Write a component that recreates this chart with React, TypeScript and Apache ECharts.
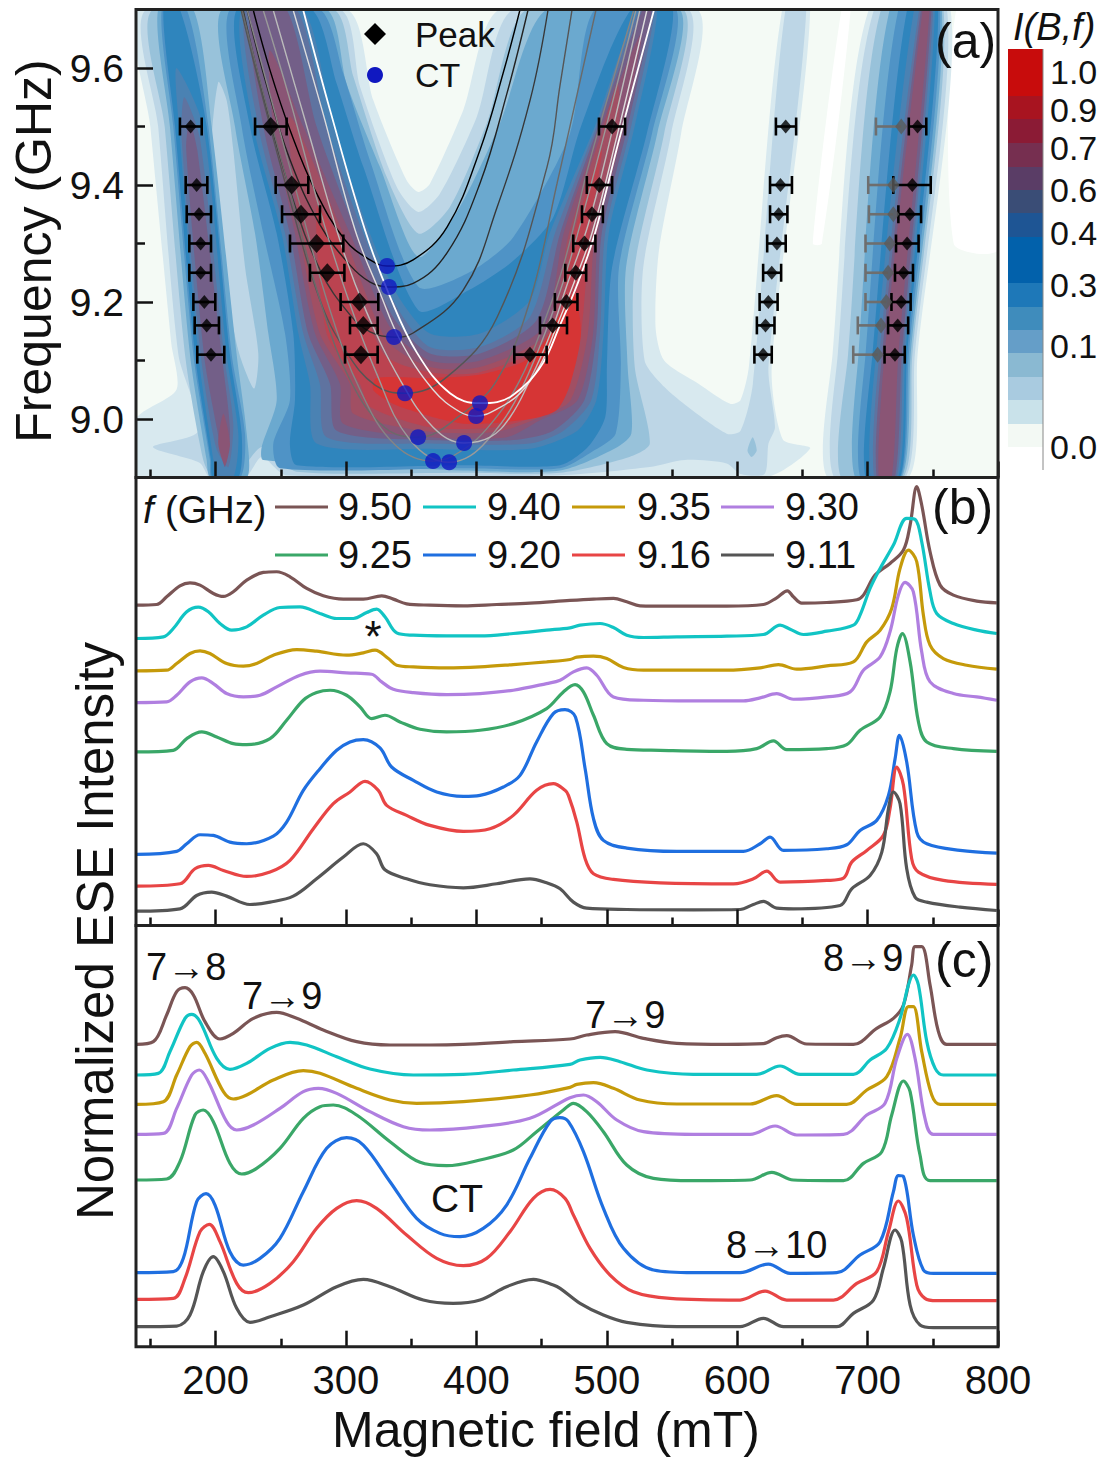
import React, { useEffect, useRef } from "react";
import * as echarts from "echarts";

const FONT = '"Liberation Sans", Arial, sans-serif';

// ---- colour scale of I(B,f): contour fill for each level, and colour bar swatches
const levelColors = ["#f4faf5", "#d8e9ef", "#bdd6e6", "#98c2da", "#6ba9cf", "#4f93c6", "#2f85bd", "#4a82b3", "#5f73a0", "#735f88", "#8a5575", "#a14f63", "#bb4350", "#d63535"];
const barColors = ["#c80c0c", "#a81420", "#8b1b35", "#762f50", "#5a3d66", "#3a4d76", "#1e5594", "#0261ab", "#1e78b8", "#3f8cbc", "#659ec8", "#8ab9d2", "#a9cbe0", "#c9e2ea", "#f3f9f4"];
const barEdges = [49, 96, 119, 143, 167, 190, 213, 237, 283, 307, 330, 353, 377, 400, 424, 447];
const barLabels: [string, number][] = [["1.0", 72], ["0.9", 110], ["0.7", 148], ["0.6", 190], ["0.4", 233], ["0.3", 285], ["0.1", 346], ["0.0", 447]];

// ---- contour outlines [field mT, frequency GHz], painted in order of intensity
const whiteA = [[680, 9.7], [687, 9.7], [665, 9.3], [658, 9.3]];
const whiteB = [[768, 9.7], [800, 9.7], [800, 9.29], [766, 9.3]];
const c1 = [[142, 9.7], [300.5, 9.7], [321, 9.545], [346.5, 9.408], [355.5, 9.388], [364.4, 9.402], [390, 9.528], [418, 9.7], [569.3, 9.7], [557, 9.488], [540, 9.288], [537.4, 9.157], [544, 9.1], [570.6, 9.06], [594.6, 9.026], [602.5, 9.032], [609, 9.09], [634.5, 9.7], [656, 9.7], [626.5, 9.09], [635, 8.965], [656, 8.95], [621, 8.9], [139, 8.9], [139, 9.0], [170, 9.05], [166, 9.13], [150, 9.5]];
const c2 = [[147, 9.7], [295.4, 9.7], [310.8, 9.568], [338.9, 9.397], [355.5, 9.354], [372, 9.385], [400.2, 9.516], [428.3, 9.7], [562.6, 9.7], [549.4, 9.488], [528, 9.26], [529, 9.1], [544, 9.055], [562.6, 9.02], [592, 8.975], [602.6, 8.98], [612, 9.06], [637, 9.7], [653, 9.7], [624, 9.09], [629, 8.986], [624, 8.958], [621, 8.906], [602.6, 8.906], [592, 8.924], [560, 8.93], [533, 8.918], [464, 8.904], [254, 8.904], [235.4, 8.935], [222.6, 8.9], [195.7, 8.9], [188, 8.925], [152, 8.952], [187, 8.98], [171.5, 9.11], [156, 9.5]];
const c3 = [[152, 9.7], [290.3, 9.7], [305.7, 9.585], [331.2, 9.414], [355.5, 9.317], [379.8, 9.363], [407.9, 9.505], [438.6, 9.7], [558.7, 9.7], [544, 9.488], [521.4, 9.26], [521.4, 9.09], [533, 8.958], [517.4, 8.935], [464, 8.908], [390, 8.908], [262, 8.91], [244, 8.941], [235, 8.952], [224, 8.924], [221, 8.9], [198.3, 8.9], [190.6, 8.93], [176.6, 9.11], [161, 9.5]];
const pocket = [[202.1, 9.576], [197, 9.46], [206, 9.26], [217.5, 9.117], [229.5, 9.052], [232.8, 9.112], [222.6, 9.26], [213.6, 9.46], [208.5, 9.545]];
const smallStripPocket = [[611.9, 8.969], [607.9, 8.946], [611, 8.935], [615, 8.946]];
const a4 = [[156, 9.7], [165, 9.5], [180.4, 9.11], [193.2, 8.93], [196, 8.9], [224, 8.9], [223.9, 8.975], [216.2, 9.11], [197, 9.5], [183, 9.7]];
const a5 = [[158.7, 9.7], [167.6, 9.5], [183, 9.11], [195.7, 8.93], [197, 8.9], [219, 8.9], [222.6, 8.975], [212.4, 9.11], [194.5, 9.5], [177.9, 9.7]];
const a6 = [[160, 9.7], [168.9, 9.5], [184.2, 9.11], [196.5, 8.93], [198, 8.9], [217.5, 8.9], [220, 8.975], [211, 9.11], [193.2, 9.5], [172.7, 9.7]];
const a7 = [[170, 9.6], [172, 9.5], [186.8, 9.11], [198.3, 8.93], [200, 8.9], [213.6, 8.9], [217.5, 8.975], [208.5, 9.11], [190.6, 9.5]];
const a8 = [[176, 9.55], [174, 9.48], [188.6, 9.11], [200.3, 8.952], [209.8, 8.918], [213.6, 8.992], [206.5, 9.11], [188, 9.48]];
const a9 = [[180, 9.51], [177.5, 9.46], [191.1, 9.11], [201.4, 8.98], [207.2, 8.918], [211.1, 8.98], [204.7, 9.11], [186, 9.46]];
const a10 = [[206, 9.009], [202.1, 8.958], [207.2, 8.921], [211.1, 8.958]];
const v4 = [[204.7, 9.7], [214.9, 9.5], [230.3, 9.317], [240.5, 9.146], [246.9, 9.032], [235.4, 8.952], [236.6, 8.93], [390, 8.912], [464.2, 8.912], [504, 8.947], [518.8, 8.975], [516, 9.09], [514.8, 9.26], [538.7, 9.488], [556, 9.7], [453.9, 9.7], [418, 9.505], [387.4, 9.363], [355.5, 9.277], [326, 9.431], [300.5, 9.573], [285.2, 9.7]];
const v5 = [[211, 9.7], [220, 9.5], [236.6, 9.317], [253.3, 9.146], [257, 9.032], [244.3, 8.958], [249.4, 8.916], [390, 8.916], [464.2, 8.916], [490.8, 8.947], [506.8, 8.975], [510.8, 9.09], [509.4, 9.26], [534.7, 9.488], [553.3, 9.7], [490.8, 9.7], [471.8, 9.488], [428, 9.31], [394, 9.25], [355.5, 9.226], [318.4, 9.442], [298, 9.59], [280, 9.7]];
const v6 = [[216.2, 9.7], [226.4, 9.5], [246.9, 9.317], [259.6, 9.146], [260.9, 9.032], [257, 8.958], [262.2, 8.921], [390, 8.921], [464.2, 8.921], [485.5, 8.952], [498.8, 9.003], [500.1, 9.09], [504.1, 9.26], [530.7, 9.488], [550.7, 9.7], [518.8, 9.7], [480.2, 9.5], [459, 9.345], [428, 9.27], [394, 9.22], [355.5, 9.186], [313.3, 9.431], [292.9, 9.573], [273.7, 9.7]];
const v7 = [[220, 9.7], [229, 9.5], [250.7, 9.317], [263.5, 9.146], [272.4, 9.06], [277.5, 8.958], [364.4, 8.949], [441, 8.949], [477.5, 8.98], [492, 9.032], [497.5, 9.146], [501.5, 9.317], [521.4, 9.5], [538.7, 9.7], [523.3, 9.7], [490.8, 9.5], [456.2, 9.317], [441, 9.203], [402.8, 9.146], [364.4, 9.146], [338.9, 9.214], [318.4, 9.317], [290.3, 9.5], [267.3, 9.7]];
const v8 = [[222.6, 9.7], [232.8, 9.5], [253.3, 9.317], [267.3, 9.146], [280, 9.06], [285.2, 8.969], [364.4, 8.958], [441, 8.958], [466.9, 8.98], [488.1, 9.032], [494.8, 9.146], [498.8, 9.317], [518.7, 9.5], [536.6, 9.7], [525.4, 9.7], [492.1, 9.5], [460.2, 9.317], [441, 9.174], [402.8, 9.123], [364.4, 9.123], [338.9, 9.192], [313.3, 9.317], [285.2, 9.5], [262.2, 9.7]];
const v9 = [[226.4, 9.7], [236.6, 9.5], [257, 9.317], [271, 9.146], [287.8, 9.06], [292.9, 8.98], [364.4, 8.964], [428.3, 8.964], [459, 8.98], [482.8, 9.032], [492.1, 9.146], [496.1, 9.317], [516.1, 9.5], [534.7, 9.7], [527.5, 9.7], [493.5, 9.5], [464.2, 9.317], [446.2, 9.169], [402.8, 9.112], [364.4, 9.112], [336.3, 9.174], [308.2, 9.317], [277.5, 9.5], [254.5, 9.7]];
const v10 = [[241.7, 9.63], [244.3, 9.5], [260.9, 9.317], [276.3, 9.146], [295.4, 9.06], [298, 8.992], [364.4, 8.969], [423.2, 8.969], [448.8, 8.998], [477.5, 9.032], [489.5, 9.146], [493.5, 9.317], [513.4, 9.5], [526.7, 9.66], [495.6, 9.5], [466.9, 9.317], [451.3, 9.157], [402.8, 9.1], [364.4, 9.1], [333.8, 9.157], [303.1, 9.317], [267.3, 9.5]];
const v11 = [[257, 9.517], [264.8, 9.317], [280, 9.146], [303, 9.06], [305.7, 9.009], [364.4, 8.978], [415.6, 8.978], [448.8, 9.003], [472.2, 9.032], [485.5, 9.146], [490.8, 9.317], [509.4, 9.5], [508.1, 9.574], [497.5, 9.5], [470.9, 9.317], [453.9, 9.146], [402.8, 9.089], [364.4, 9.089], [331.2, 9.135], [298, 9.317]];
const v12 = [[277.5, 9.363], [285.2, 9.146], [310.8, 9.06], [318.4, 9.021], [364.4, 8.986], [415.6, 8.986], [451.3, 9.009], [466.9, 9.032], [480.2, 9.146], [486.8, 9.317], [496.1, 9.46], [474.8, 9.317], [456.5, 9.135], [402.8, 9.08], [364.4, 9.08], [328.7, 9.112], [292.9, 9.317]];
const v13 = [[323.5, 9.07], [364.4, 9.07], [402.8, 9.076], [436, 9.098], [451.3, 9.13], [466.7, 9.19], [475, 9.215], [480.2, 9.146], [472, 9.06], [461.5, 9.015], [441, 9.0], [390, 8.992], [339, 9.023], [321, 9.049]];
// the 8->9 ridge: [left edge at 9.70, 9.11, 8.90 GHz, right edge at 8.90, 9.11, 9.70 GHz]
const ridgeFreq = [9.7, 9.11, 8.9, 8.9, 9.11, 9.7];
const ridgeEdges = [
  [1, 701, 673.1, 669.1, 731.6, 738.3, 763.6], [2, 705, 677.1, 674.4, 729, 736.2, 760.9], [3, 710.3, 685, 679.7, 727.6, 734.3, 758.2],
  [4, 717, 693, 690.4, 726.3, 733, 756.9], [5, 723.6, 698.4, 694.4, 725.5, 731.6, 755.6], [6, 730.3, 703.7, 698.4, 725, 730.3, 754.2],
  [7, 735.6, 706.4, 702.4, 723.6, 729, 751.6], [8, 739.6, 709, 705, 722.3, 727.6, 750.3], [9, 741, 711.1, 706.9, 721, 726.3, 749], [10, 742.3, 713, 708.5, 718.5, 723.6, 747.6],
];

// ---- panel (a) peak positions [field, frequency, low, high]
const peaks78 = [[180.9, 9.5, 172.7, 189.4], [185.5, 9.4, 177.1, 193.7], [187.3, 9.35, 177.9, 196.5], [188.6, 9.3, 179.9, 196.5], [188.6, 9.25, 179.9, 196.5], [191.4, 9.2, 183, 199.8], [193.2, 9.16, 184, 202.6], [196.5, 9.11, 186, 206.7]];
const peaks79a = [[242.3, 9.5, 230.3, 254.5], [258.4, 9.4, 246.1, 271.1], [265.5, 9.35, 251, 280.1], [277.5, 9.3, 257.1, 298], [285.7, 9.25, 272.4, 298.8], [310.3, 9.2, 295.9, 324.8], [313.3, 9.16, 303.1, 324.3], [311.5, 9.11, 299.3, 324.3]];
const peaks79b = [[504.1, 9.5, 494, 514], [494.3, 9.4, 484.7, 504.1], [488.7, 9.35, 481, 497], [482.8, 9.3, 474.3, 491.3], [476.2, 9.25, 468.2, 484.2], [469, 9.2, 460.2, 477.5], [458.5, 9.16, 448.8, 469.5], [441.1, 9.11, 429.1, 453.9]];
const peaks810 = [[637.2, 9.5, 629.7, 645.2], [633.2, 9.4, 625.2, 642], [631.8, 9.35, 625.2, 638.5], [630.5, 9.3, 623, 637.2], [626.5, 9.25, 619.9, 633.7], [623.9, 9.2, 617.2, 631], [621.7, 9.16, 615.1, 628.6], [619.9, 9.11, 613.2, 626.5]];
const peaks89gray = [[725.8, 9.5, 706.4, 725.8], [719.7, 9.4, 700.5, 719.7], [719.7, 9.35, 701, 719.7], [717, 9.3, 698.4, 717], [715.7, 9.25, 698.4, 715.7], [714.3, 9.2, 698.4, 714.3], [710.3, 9.16, 692.5, 710.3], [707.7, 9.11, 689, 707.7]];
const peaks89 = [[738.3, 9.5, 731.6, 745], [734.3, 9.4, 719.7, 748.4], [732.4, 9.35, 723.6, 741], [730.3, 9.3, 721.8, 739.1], [727.6, 9.25, 721, 734.8], [725.8, 9.2, 718.3, 733], [723.1, 9.16, 715.7, 731.1], [721, 9.11, 713, 728.5]];
const ctPoints = [[331.5, 9.2615], [333, 9.2256], [336.9, 9.14], [345.3, 9.044], [355.3, 8.969], [366.8, 8.928], [379.1, 8.926], [390.6, 8.959], [399.8, 9.005], [402.8, 9.027]];

// ---- panel (a) transition curves, black to white
const fitColors = ["#000000", "#222222", "#383838", "#555555", "#6a6a6a", "#858585", "#9a9a9a", "#bbbbbb", "#dddddd", "#ffffff"];
const fit1 = [[228.8, 9.7], [241.8, 9.596], [257.1, 9.494], [276.3, 9.391], [299.3, 9.306], [318.5, 9.272], [331.5, 9.2615], [351.5, 9.272], [377.5, 9.328], [402.8, 9.46], [420.5, 9.591], [433.5, 9.7]];
const fit2 = [[224.2, 9.7], [238, 9.58], [257.1, 9.443], [280.1, 9.332], [303.1, 9.263], [318.5, 9.234], [333, 9.2256], [351.5, 9.232], [377.5, 9.284], [402.8, 9.403], [423.5, 9.557], [439.7, 9.7]];
const fit3 = [[221.1, 9.7], [235.6, 9.562], [257.1, 9.391], [280.1, 9.255], [303.1, 9.178], [318.5, 9.149], [336.9, 9.14], [351.5, 9.147], [389.8, 9.22], [415.9, 9.362], [441.2, 9.545], [455, 9.7]];
const fit4 = [[219.5, 9.7], [235.6, 9.554], [257.1, 9.374], [280.1, 9.203], [299.3, 9.118], [322.3, 9.058], [345.3, 9.044], [377.5, 9.072], [415.9, 9.174], [454.2, 9.431], [464.2, 9.571], [473.4, 9.7]];
const fit5 = [[220.3, 9.7], [238, 9.545], [261, 9.357], [280.1, 9.203], [303.1, 9.067], [330, 8.985], [355.3, 8.969], [389.8, 9.01], [415.9, 9.067], [441.2, 9.203], [461.9, 9.403], [491.8, 9.7]];
const fit6 = [[224.2, 9.7], [241.8, 9.554], [264.8, 9.366], [287.8, 9.186], [310.8, 9.05], [337.6, 8.956], [366.8, 8.928], [387.5, 8.944], [410.5, 8.99], [433.5, 9.067], [452.7, 9.17], [468, 9.272], [487.2, 9.443], [520.9, 9.7]];
const fit7 = [[236.4, 9.7], [257.1, 9.545], [280.1, 9.357], [299.3, 9.221], [322.3, 9.084], [349.2, 8.964], [379.1, 8.926], [395.2, 8.937], [410.5, 8.969], [425.8, 9.015], [441.2, 9.084], [456.5, 9.17], [471.9, 9.272], [494.9, 9.46], [522.5, 9.7]];
const fit8 = [[244.1, 9.7], [268.6, 9.511], [297, 9.294], [316.2, 9.181], [341.5, 9.067], [366.8, 8.986], [390.6, 8.959], [410.5, 8.969], [425.8, 9.003], [441.2, 9.067], [456.5, 9.144], [469.5, 9.229], [485.7, 9.332], [502.5, 9.477], [525.5, 9.7]];
const fit9 = [[259.4, 9.7], [281.7, 9.528], [307, 9.323], [326.2, 9.215], [341.5, 9.135], [366.8, 9.05], [387.5, 9.012], [399.8, 9.005], [418.2, 9.02], [433.5, 9.044], [448.9, 9.092], [461.1, 9.156], [474.2, 9.229], [488.7, 9.318], [507.1, 9.477], [530.9, 9.7]];
const fit10 = [[267.1, 9.7], [287.8, 9.528], [314.6, 9.323], [333.8, 9.209], [354.5, 9.113], [379.8, 9.044], [402.8, 9.027], [415.9, 9.029], [435.8, 9.055], [451.2, 9.096], [464.2, 9.161], [477.2, 9.229], [491, 9.318], [509.4, 9.477], [536.3, 9.7]];
const fits = [fit1, fit2, fit3, fit4, fit5, fit6, fit7, fit8, fit9, fit10];

// ---- spectra: frequencies and colours, offset intensity in arbitrary units
const freqs = ["9.50", "9.40", "9.35", "9.30", "9.25", "9.20", "9.16", "9.11"];
const specColors = ["#7a5555", "#11c4c4", "#c59a0a", "#b07fe0", "#3aa768", "#1f6fe0", "#e84545", "#555555"];

const b950 = [[139.5,960],[154.8,962],[162.5,985],[172.7,1018],[180.4,1027],[188.1,1020],[198.3,995],[206,986],[213.6,1000],[223.9,1035],[236.6,1058],[246.9,1060],[257.1,1045],[269.9,1010],[282.6,988],[298,978],[313.3,978],[327.4,988],[336.3,978],[346.5,964],[364.4,960],[390,958],[415.6,962],[441.1,966],[471.8,974],[489.8,978],[505.1,980],[515.3,970],[525.5,958],[548.5,957],[574.1,957],[592,957],[620.1,962],[630.3,982],[638.5,1003],[643.1,985],[649.5,966],[668.7,968],[691.7,976],[696.8,990],[705.7,1050],[717.2,1085],[727.5,1125],[732.6,1200],[737.7,1315],[741.5,1260],[747.9,1120],[755.6,1020],[765.8,990],[783.7,972],[799,967]];
const b940 = [[139.5,860],[160,865],[167.6,890],[177.9,940],[186.8,954],[194.5,940],[203.4,905],[212.4,885],[223.9,895],[236.6,930],[249.4,953],[264.8,955],[280.1,935],[292.9,920],[305.7,920],[315.9,938],[323.5,948],[329.9,925],[338.9,877],[351.7,870],[377.2,868],[402.8,868],[428.3,875],[453.9,885],[471.8,892],[479.5,900],[494.9,905],[505.1,893],[515.3,870],[528.1,863],[553.7,865],[592,867],[620.1,872],[632.9,900],[640.6,888],[650.8,872],[668.7,882],[689.1,900],[694.2,930],[701.9,1010],[709.6,1070],[719.8,1140],[730,1220],[736.4,1217],[741.5,1150],[747.9,1000],[753,935],[765.8,905],[783.7,885],[799,875]];
const b935 = [[139.5,763],[162.5,765],[170.2,785],[180.4,815],[188.1,823],[195.7,815],[208.5,785],[221.3,777],[231.5,785],[244.3,810],[262.2,827],[277.5,822],[300.5,810],[313.3,817],[322.3,825],[332.5,800],[338.9,780],[351.7,775],[377.2,772],[402.8,775],[428.3,782],[453.9,790],[471.8,797],[477,804],[489.8,807],[500,800],[512.8,773],[528.1,765],[553.7,765],[592,765],[617.6,772],[631.6,782],[645.7,768],[668.7,778],[689.1,790],[699.4,850],[709.6,885],[718.5,950],[724.9,1070],[731.3,1125],[737.7,1090],[742.8,930],[747.9,840],[758.1,800],[776,780],[799,768]];
const b930 = [[139.5,668],[162.5,670],[170.2,690],[180.4,730],[189.4,742],[198.3,725],[208.5,695],[221.3,685],[234.1,690],[246.9,715],[264.8,750],[280.1,762],[300.5,757],[319.7,753],[327.4,730],[336.3,708],[351.7,698],[377.2,692],[402.8,695],[428.3,705],[453.9,725],[464.2,735],[474.4,760],[484.6,772],[492.3,750],[505.1,685],[528.1,675],[566.4,673],[604.8,673],[617.6,682],[630.3,695],[643.1,678],[668.7,685],[686.6,700],[696.8,765],[709.6,805],[717.2,880],[723.6,990],[728.7,1028],[735.1,1000],[741.5,820],[747.9,730],[765.8,695],[783.7,685],[799,675]];
const b925 = [[139.5,520],[167.6,525],[177.9,560],[189.4,580],[200.9,565],[213.6,545],[223.9,542],[241.8,560],[254.5,615],[267.3,675],[277.5,698],[287.8,705],[300.5,690],[310.8,655],[319.7,620],[329.9,630],[341.4,610],[356.8,588],[377.2,580],[402.8,585],[428.3,605],[453.9,650],[466.7,700],[475.7,722],[482.1,700],[489.8,630],[500,545],[515.3,528],[540.9,525],[592,522],[615,530],[627.8,553],[638,527],[668.7,530],[684,542],[694.2,585],[709.6,625],[717.2,700],[722.4,830],[726.7,875],[732.6,790],[739,610],[745.4,550],[765.8,530],[799,522]];
const b920 = [[139.5,213],[170.2,222],[177.9,245],[188.1,272],[198.3,270],[211,250],[223.9,245],[244.3,268],[254.5,310],[267.3,405],[280.1,470],[292.9,525],[303.1,550],[313.3,557],[326.1,532],[335,475],[351.7,435],[369.6,400],[390,387],[402.8,390],[420.7,415],[433.5,450],[446.2,550],[459,635],[468,647],[476,625],[483.4,470],[489.8,320],[497.4,255],[515.3,232],[553.7,222],[604.8,222],[617.6,245],[625.2,265],[635.5,225],[668.7,230],[684,242],[694.2,285],[707,315],[716,390],[721.1,500],[724.4,570],[730,490],[737.7,280],[745.4,245],[770.9,225],[799,217]];
const b916 = [[139.5,118],[172.7,125],[184.2,170],[194.5,180],[206,165],[223.9,147],[241.8,160],[257.1,195],[275,290],[290.3,365],[303.1,400],[314.6,432],[324.8,405],[331.2,360],[346.5,330],[364.4,300],[390,282],[410.4,290],[428.3,330],[446.2,405],[459,425],[468,405],[470.6,390],[477,310],[483.4,200],[489.8,155],[505.1,138],[540.9,128],[597.1,125],[612.4,140],[622.7,163],[632.9,130],[668.7,135],[681.5,142],[687.8,190],[699.4,225],[712.1,270],[717.2,350],[722.4,475],[727.5,420],[733.8,200],[739,160],[758.1,135],[799,123]];
const b911 = [[139.5,43],[172.7,50],[185.5,90],[197,100],[208.5,88],[226.4,63],[241.8,70],[259.6,88],[277.5,140],[298,205],[313.3,245],[323.5,215],[329.9,167],[346.5,140],[364.4,122],[390,113],[415.6,125],[441.1,140],[453.9,128],[464.2,110],[474.4,70],[484.6,52],[515.3,48],[566.4,47],[602.2,48],[612.4,63],[620.1,72],[630.3,52],[643.1,50],[678.9,60],[687.8,110],[701.9,150],[710.9,220],[716,350],[719.8,400],[724.9,365],[730,170],[736.4,85],[745.4,70],[770.9,55],[799,45]];

const c950 = [[139.5,907],[152.3,915],[162.5,995],[170.2,1065],[176.6,1077],[183,1055],[191.9,975],[203.4,923],[213.6,940],[229,985],[246.9,1003],[262.2,985],[282.6,950],[308.2,915],[333.8,905],[364.4,905],[390,907],[428.3,915],[471.8,923],[484.6,935],[506.4,945],[528.1,925],[553.7,910],[592,907],[620.1,909],[630.3,927],[638,933],[653.3,908],[689.1,907],[707,955],[719.8,985],[727.5,1025],[733.8,1145],[736.4,1200],[741.5,1200],[747.9,1085],[754.3,945],[760.7,907],[799,907]];
const c940 = [[139.5,815],[156.1,820],[165,885],[176.6,985],[181.7,997],[188.1,975],[200.9,865],[211,832],[223.9,850],[241.8,895],[257.1,913],[269.9,905],[292.9,870],[318.4,833],[351.7,815],[390,817],[428.3,830],[471.8,847],[479.5,860],[494.9,868],[510.2,855],[530.7,830],[566.4,817],[615,817],[632.9,842],[648.2,817],[689.1,817],[701.9,860],[714.7,895],[724.9,985],[731.3,1085],[735.1,1115],[739,1085],[745.4,915],[751.8,835],[758.1,815],[799,815]];
const c935 = [[139.5,727],[160,735],[170.2,815],[180.4,900],[185.5,913],[191.9,880],[206,765],[213.6,743],[223.9,755],[244.3,800],[267.3,828],[280.1,820],[308.2,775],[333.8,740],[354.2,730],[390,735],[441.1,755],[471.8,778],[477,787],[489.8,792],[505.1,775],[525.5,740],[553.7,728],[609.9,728],[630.3,753],[645.7,727],[684,727],[699.4,770],[714.7,810],[724.9,925],[731.3,1020],[735.1,1020],[741.5,885],[749.2,755],[755.6,727],[799,727]];
const c930 = [[139.5,637],[160,640],[170.2,715],[181.7,815],[187.6,830],[194.5,795],[208.5,675],[216.2,650],[229,665],[249.4,715],[267.3,765],[278.8,775],[292.9,760],[318.4,705],[344,660],[364.4,650],[402.8,660],[441.1,685],[471.8,747],[482.1,755],[492.3,735],[507.7,680],[528.1,645],[566.4,637],[609.9,637],[629.1,662],[645.7,635],[681.5,637],[699.4,695],[713.4,730],[722.4,865],[730.5,937],[736.4,865],[744,685],[750.5,637],[799,637]];
const c925 = [[139.5,500],[162.5,503],[172.7,555],[184.2,695],[190.6,710],[198.3,675],[211,550],[220,518],[231.5,535],[249.4,595],[267.3,685],[280.1,720],[290.3,725],[308.2,695],[333.8,615],[356.8,553],[377.2,543],[402.8,560],[428.3,590],[446.2,645],[466.7,710],[474.4,730],[484.6,705],[497.4,645],[515.3,545],[535.8,505],[566.4,498],[609.9,500],[626.5,523],[643.1,500],[681.5,498],[696.8,550],[710.9,585],[718.5,695],[727.5,797],[732.6,765],[740.2,575],[747.9,498],[799,498]];
const c920 = [[139.5,222],[167.6,225],[175.3,265],[185.5,435],[192.7,459],[199.6,425],[211,285],[221.3,245],[234.1,265],[249.4,325],[267.3,465],[285.2,595],[300.5,627],[313.3,605],[333.8,495],[354.2,385],[372.1,340],[387.4,330],[405.3,355],[423.2,425],[441.1,565],[456.5,675],[464.1,687],[470.6,675],[482.1,585],[497.4,415],[512.8,295],[535.8,230],[566.4,222],[602.2,222],[623.9,248],[640.6,220],[676.3,222],[694.2,275],[709.6,315],[719.8,465],[723.6,513],[727.5,510],[735.1,335],[742.8,230],[750.5,220],[799,220]];
const c916 = [[139.5,142],[167.6,145],[176.6,205],[188.1,345],[195.2,367],[203.4,315],[216.2,190],[225.1,162],[241.8,190],[259.6,255],[277.5,355],[292.9,415],[308.2,438],[323.5,415],[346.5,335],[369.6,265],[390,243],[407.9,265],[425.8,345],[443.7,445],[456.5,472],[468,445],[474.4,395],[487.2,295],[502.5,215],[520.4,165],[548.5,145],[602.2,140],[621.4,167],[638,140],[673.8,140],[691.7,190],[707,225],[716,345],[723.6,437],[730,385],[737.7,185],[744,145],[753,138],[799,138]];
const c911 = [[139.5,60],[170.2,62],[180.4,95],[190.6,225],[198.3,270],[206,225],[216.2,115],[226.4,73],[241.8,90],[267.3,125],[292.9,180],[313.3,202],[333.8,180],[359.3,140],[382.3,130],[402.8,140],[423.2,180],[443.7,202],[459,185],[464.2,175],[479.5,130],[497.4,95],[515.3,73],[553.7,60],[602.2,60],[620.1,85],[635.5,60],[676.3,60],[689.1,100],[704.5,140],[712.1,235],[721.1,350],[726.2,315],[732.6,125],[740.2,65],[750.5,57],[799,57]];

const spectraB = [b950, b940, b935, b930, b925, b920, b916, b911];
const spectraC = [c950, c940, c935, c930, c925, c920, c916, c911];

// ---- ticks
const xMajor = [200, 300, 400, 500, 600, 700, 800];
const xMinor = [150, 250, 350, 450, 550, 650, 750];
const fMajor = [9.0, 9.2, 9.4, 9.6];
const fMinor = [9.1, 9.3, 9.5];

type Band = { level: number; points: number[][] };
const ridgeBands: Band[] = ridgeEdges.map((r) => ({ level: r[0], points: ridgeFreq.map((f, i) => [r[i + 1], f]) }));
const bands: Band[] = [
  { level: -1, points: whiteA }, { level: -1, points: whiteB },
  { level: 1, points: c1 }, { level: 2, points: c2 }, { level: 3, points: c3 },
  { level: 2, points: pocket }, { level: 3, points: smallStripPocket },
  { level: 4, points: a4 }, { level: 5, points: a5 }, { level: 6, points: a6 }, { level: 7, points: a7 }, { level: 8, points: a8 }, { level: 9, points: a9 }, { level: 10, points: a10 },
  { level: 4, points: v4 }, { level: 5, points: v5 }, { level: 6, points: v6 }, { level: 7, points: v7 }, { level: 8, points: v8 }, { level: 9, points: v9 }, { level: 10, points: v10 }, { level: 11, points: v11 }, { level: 12, points: v12 }, { level: 13, points: v13 },
  ...ridgeBands,
];

const gridBox = [
  { left: 136, top: 9.5, width: 862, height: 468 },
  { left: 136, top: 477.5, width: 862, height: 448 },
  { left: 136, top: 925.5, width: 862, height: 421.2 },
];

function xAxes(i: number) {
  const base = { type: "value", min: 139, max: 800, gridIndex: i, position: "bottom", z: 10, splitLine: { show: false }, axisLine: { show: false } };
  return [
    { ...base, axisTick: { inside: true, length: 16, lineStyle: { color: "#111", width: 2.5 }, customValues: xMajor }, axisLabel: i === 2 ? { show: true, customValues: xMajor, color: "#111", fontSize: 40, fontFamily: FONT, margin: 13, hideOverlap: false, showMaxLabel: true, showMinLabel: true, formatter: (v: number) => String(v) } : { show: false } },
    { ...base, axisTick: { inside: true, length: 8, lineStyle: { color: "#111", width: 2.5 }, customValues: xMinor }, axisLabel: { show: false } },
  ];
}

function errorSeries(data: number[][], color: string, xAxisIndex = 0, width = 2.6) {
  return {
    type: "custom", xAxisIndex, yAxisIndex: 0, z: 5, data, encode: { x: 0, y: 1 },
    renderItem: (_: any, api: any) => {
      const y = api.coord([api.value(0), api.value(1)])[1];
      const a = api.coord([api.value(2), api.value(1)])[0];
      const b = api.coord([api.value(3), api.value(1)])[0];
      const s = { stroke: color, lineWidth: width };
      const kids: any[] = [
        { type: "line", shape: { x1: a, y1: y, x2: b, y2: y }, style: s },
        { type: "line", shape: { x1: a, y1: y - 9, x2: a, y2: y + 9 }, style: s },
      ];
      if (color === "#000") kids.push({ type: "line", shape: { x1: b, y1: y - 9, x2: b, y2: y + 9 }, style: s });
      return { type: "group", children: kids };
    },
  };
}

function peakSeries(data: number[][], size: number[], color = "#000") {
  return { type: "scatter", xAxisIndex: 0, yAxisIndex: 0, z: 6, symbol: "diamond", symbolSize: size, itemStyle: { color }, data: data.map((d) => [d[0], d[1]]) };
}

function buildOption() {
  const series: any[] = [
    {
      type: "custom", xAxisIndex: 0, yAxisIndex: 0, z: 1, clip: true, encode: { x: 0, y: 1 },
      data: bands.map((b, i) => [b.points[0][0], b.points[0][1], i]),
      renderItem: (_: any, api: any) => {
        const b = bands[api.value(2)];
        return { type: "polygon", shape: { points: b.points.map((p) => api.coord(p)), smooth: 0.25 }, style: { fill: b.level < 0 ? "#ffffff" : levelColors[b.level] } };
      },
    },
    ...fits.map((d, i) => ({ type: "line", xAxisIndex: 0, yAxisIndex: 0, z: 3, data: d, smooth: 0.4, symbol: "none", lineStyle: { color: fitColors[i], width: i === 9 ? 1.8 : 1.4 } })),
    errorSeries(peaks89gray, "#6e6e6e"),
    peakSeries(peaks89gray, [12, 16], "#5a5a5a"),
    errorSeries(peaks78, "#000"), peakSeries(peaks78, [12, 14]),
    errorSeries(peaks79a, "#000"), peakSeries(peaks79a, [17, 19]),
    errorSeries(peaks79b, "#000"), peakSeries(peaks79b, [14, 16]),
    errorSeries(peaks810, "#000"), peakSeries(peaks810, [12, 14]),
    errorSeries(peaks89, "#000"), peakSeries(peaks89, [12, 14]),
    { type: "scatter", xAxisIndex: 0, yAxisIndex: 0, z: 7, symbolSize: 16, itemStyle: { color: "#1018c0" }, data: ctPoints },
    ...spectraB.map((d, i) => ({ name: freqs[i], type: "line", xAxisIndex: 2, yAxisIndex: 1, z: 3, data: d, smooth: 0.35, symbol: "none", lineStyle: { color: specColors[i], width: 3.2 } })),
    ...spectraC.map((d, i) => ({ name: freqs[i], type: "line", xAxisIndex: 4, yAxisIndex: 2, z: 3, data: d, smooth: 0.35, symbol: "none", lineStyle: { color: specColors[i], width: 3.2 } })),
  ];

  const txt = (text: string, x: number, y: number, size: number, extra: any = {}) => ({
    type: "text", z: 100, x, y, rotation: extra.rotation || 0,
    style: { text, x: 0, y: 0, fill: "#111", font: `${extra.italic ? "italic " : ""}${size}px ${FONT}`, textAlign: extra.align || "left", textVerticalAlign: "middle" },
  });
  const legendRows = [[0, 1, 2, 3], [4, 5, 6, 7]];
  const legendX = [[275, 338], [423, 487], [572, 637], [721, 785]];
  const graphic: any[] = [
    ...gridBox.map((g) => ({ type: "rect", z: 90, shape: { x: g.left, y: g.top, width: g.width, height: g.height }, style: { fill: "none", stroke: "#222", lineWidth: 3 } })),
    txt("Frequency (GHz)", 34, 251, 50, { rotation: Math.PI / 2, align: "center" }),
    txt("Normalized ESE Intensity", 95, 931, 51, { rotation: Math.PI / 2, align: "center" }),
    txt("Magnetic field (mT)", 546, 1430, 50, { align: "center" }),
    txt("(a)", 935, 41, 50), txt("(b)", 932, 507, 50), txt("(c)", 935, 960, 50),
    { type: "polygon", z: 95, shape: { points: [[375, 23], [386, 34], [375, 45], [364, 34]] }, style: { fill: "#000" } },
    { type: "circle", z: 95, shape: { cx: 375, cy: 75, r: 8 }, style: { fill: "#1018c0" } },
    txt("Peak", 415, 34, 35), txt("CT", 415, 75, 34),
    txt("f", 143, 510, 38, { italic: true }), txt("(GHz)", 165, 510, 38),
    ...legendRows.flatMap((row, r) => row.flatMap((k, c) => [
      { type: "line", z: 95, shape: { x1: legendX[c][0], y1: 507 + r * 48, x2: legendX[c][0] + 53, y2: 507 + r * 48 }, style: { stroke: specColors[k], lineWidth: 3 } },
      txt(freqs[k], legendX[c][1], 507 + r * 48, 38),
    ])),
    txt("*", 373, 636, 44, { align: "center" }),
    txt("7→8", 146, 967, 38), txt("7→9", 242, 996, 38), txt("7→9", 585, 1015, 38), txt("8→9", 823, 958, 38), txt("8→10", 726, 1245, 38), txt("CT", 431, 1198, 39),
    txt("I(B,f)", 1013, 27, 38, { italic: true }),
    ...barColors.map((c, i) => ({ type: "rect", z: 95, shape: { x: 1008, y: barEdges[i], width: 35, height: barEdges[i + 1] - barEdges[i] }, style: { fill: c } })),
    { type: "line", z: 96, shape: { x1: 1043, y1: 49, x2: 1043, y2: 470 }, style: { stroke: "#888", lineWidth: 1 } },
    ...barLabels.map(([t, y]) => txt(t, 1050, y, 34)),
  ];

  return {
    animation: false,
    backgroundColor: "#ffffff",
    grid: [
      { ...gridBox[0], show: true, backgroundColor: levelColors[0], borderWidth: 0 },
      { ...gridBox[1], show: false },
      { ...gridBox[2], show: false },
    ],
    xAxis: [...xAxes(0), ...xAxes(1), ...xAxes(2)],
    yAxis: [
      {
        type: "value", gridIndex: 0, min: 8.9, max: 9.7, z: 10, splitLine: { show: false }, axisLine: { show: false },
        axisTick: { inside: true, length: 17, lineStyle: { color: "#111", width: 2.5 }, customValues: fMajor },
        axisLabel: { customValues: fMajor, color: "#111", fontSize: 39, fontFamily: FONT, margin: 12, formatter: (v: number) => v.toFixed(1) },
      },
      { type: "value", gridIndex: 1, min: 0, max: 1342.5, show: false },
      { type: "value", gridIndex: 2, min: 0, max: 1263.5, show: false },
      {
        type: "value", gridIndex: 0, min: 8.9, max: 9.7, z: 10, splitLine: { show: false }, axisLine: { show: false }, position: "left",
        axisTick: { inside: true, length: 9, lineStyle: { color: "#111", width: 2.5 }, customValues: fMinor }, axisLabel: { show: false },
      },
    ],
    series,
    graphic,
  };
}

export default function App() {
  const ref = useRef<HTMLDivElement>(null);
  useEffect(() => {
    document.body.style.margin = "0";
    const chart = echarts.init(ref.current!, undefined, { renderer: "svg" });
    chart.setOption(buildOption() as any);
    return () => chart.dispose();
  }, []);
  return <div ref={ref} style={{ width: 1105, height: 1460 }} />;
}
